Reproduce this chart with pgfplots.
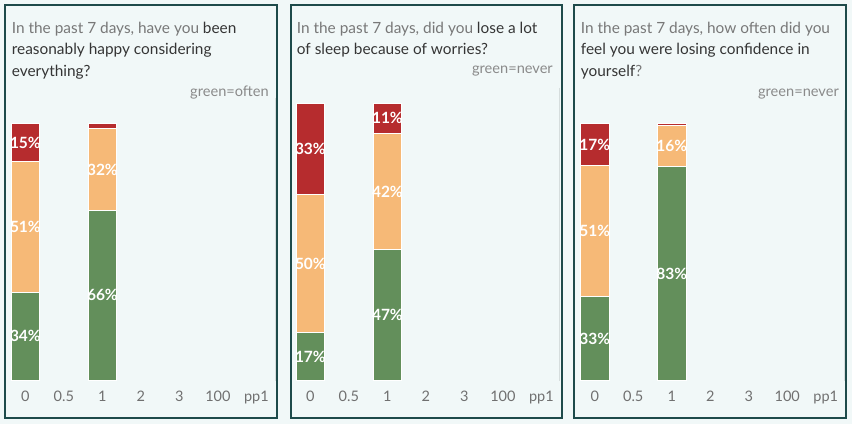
\documentclass[border=0pt]{standalone}
\usepackage{pgfplots}
\pgfplotsset{compat=1.18}
\usepackage{fontspec}
\setmainfont{Lato}
\definecolor{bgc}{HTML}{F1F8F8}
\definecolor{bord}{HTML}{1E4B4B}
\definecolor{cred}{HTML}{B62C2E}
\definecolor{corange}{HTML}{F6B977}
\definecolor{cgreen}{HTML}{638F5B}
\definecolor{tgray}{HTML}{787878}
\definecolor{tdark}{HTML}{353535}
\definecolor{ggray}{HTML}{8A8A8A}
\definecolor{tickc}{HTML}{707070}
\definecolor{faint}{HTML}{D6DDDD}
\newcommand{\ttl}{\fontsize{15.4}{22}\selectfont}
\newcommand{\gfont}{\fontsize{14.6}{16}\selectfont}
\pgfplotsset{
  panel/.style={
    scale only axis, width=268pt, anchor=south west,
    ymin=0, ymax=100, xmin=-0.44, xmax=6.52,
    clip=false,
    axis line style={draw=none},
    major tick length=0pt,
    ytick=\empty,
    xtick={0,1,2,3,4,5,6},
    xticklabels={0,0.5,1,2,3,100,pp1},
    /pgf/number format/assume math mode=true,
    xticklabel style={anchor=base, yshift=-21pt, text=tickc, font=\fontsize{14.5}{14.5}\selectfont},
  },
  bars/.style={panel, ybar stacked, bar width=28.5pt},
  labs/.style={panel, hide axis},
  seg/.style={fill=#1, draw=white, line width=0.9pt},
  lab/.style={only marks, mark=none, point meta=explicit symbolic, nodes near coords,
    every node near coord/.style={anchor=center, text=white, inner sep=0pt, font=\fontsize{15.5}{15.5}\selectfont\bfseries}},
}
\begin{document}
\begin{tikzpicture}
\fill[bgc] (0pt,0pt) rectangle (852pt,424pt);
% panel frames
\draw[bord, line width=2pt] (5pt,419pt) rectangle (276.5pt,6pt);
\draw[bord, line width=2pt] (290.5pt,419pt) rectangle (562pt,6pt);
\draw[bord, line width=2pt] (574pt,419pt) rectangle (846pt,6pt);
% faint plot edges
\draw[faint, line width=0.8pt] (275pt,326pt) -- (275pt,43pt);
\draw[faint, line width=0.8pt] (559.5pt,336pt) -- (559.5pt,43pt);
\draw[faint, line width=0.8pt] (844pt,314pt) -- (844pt,43pt);
% titles panel 1
\node[anchor=base west, inner sep=0pt, font=\ttl, text=tgray] at (11.7pt,390.7pt) {In the past 7 days, have you \textcolor{tdark}{been}};
\node[anchor=base west, inner sep=0pt, font=\ttl, text=tdark] at (11.7pt,369pt) {reasonably happy considering};
\node[anchor=base west, inner sep=0pt, font=\ttl, text=tdark] at (11.7pt,347.3pt) {everything?};
\node[anchor=base east, inner sep=0pt, font=\gfont, text=ggray] at (269pt,327.3pt) {green=often};
% titles panel 2
\node[anchor=base west, inner sep=0pt, font=\ttl, text=tgray] at (296.7pt,390.7pt) {In the past 7 days, did you \textcolor{tdark}{lose a lot}};
\node[anchor=base west, inner sep=0pt, font=\ttl, text=tdark] at (296.7pt,369pt) {of sleep because of worries?};
\node[anchor=base east, inner sep=0pt, font=\gfont, text=ggray] at (553pt,350pt) {green=never};
% titles panel 3
\node[anchor=base west, inner sep=0pt, font=\ttl, text=tgray] at (580.7pt,390.7pt) {In the past 7 days, how often did you};
\node[anchor=base west, inner sep=0pt, font=\ttl, text=tdark] at (580.7pt,369pt) {feel you were losing confidence in};
\node[anchor=base west, inner sep=0pt, font=\ttl, text=tdark] at (580.7pt,347.3pt) {yourself\textcolor{tgray}{?}};
\node[anchor=base east, inner sep=0pt, font=\gfont, text=ggray] at (839pt,327.3pt) {green=never};

% ---------- panel 1
\begin{axis}[bars, at={(8.4pt,44pt)}, height=256.7pt]
\addplot[seg=cgreen] coordinates {(0,34) (2,66)};
\addplot[seg=corange] coordinates {(0,51) (2,32)};
\addplot[seg=cred] coordinates {(0,15) (2,2)};
\end{axis}
\begin{axis}[labs, at={(8.4pt,44pt)}, height=256.7pt]
\addplot[lab] coordinates {(0,17) [34\%] (0,59.5) [51\%] (0,92.5) [15\%] (2,33) [66\%] (2,82) [32\%]};
\end{axis}

% ---------- panel 2
\begin{axis}[bars, at={(293.4pt,44pt)}, height=277pt]
\addplot[seg=cgreen] coordinates {(0,17) (2,47)};
\addplot[seg=corange] coordinates {(0,50) (2,42)};
\addplot[seg=cred] coordinates {(0,33) (2,11)};
\end{axis}
\begin{axis}[labs, at={(293.4pt,44pt)}, height=277pt]
\addplot[lab] coordinates {(0,8.5) [17\%] (0,42) [50\%] (0,83.5) [33\%] (2,23.5) [47\%] (2,68) [42\%] (2,94.5) [11\%]};
\end{axis}

% ---------- panel 3
\begin{axis}[bars, at={(577.8pt,44pt)}, height=256.7pt]
\addplot[seg=cgreen] coordinates {(0,32.4) (2,83)};
\addplot[seg=corange] coordinates {(0,51.1) (2,16)};
\addplot[seg=cred] coordinates {(0,16.5) (2,1)};
\end{axis}
\begin{axis}[labs, at={(577.8pt,44pt)}, height=256.7pt]
\addplot[lab] coordinates {(0,16.2) [33\%] (0,57.95) [51\%] (0,91.75) [17\%] (2,41.5) [83\%] (2,91) [16\%]};
\end{axis}
\end{tikzpicture}
\end{document}
